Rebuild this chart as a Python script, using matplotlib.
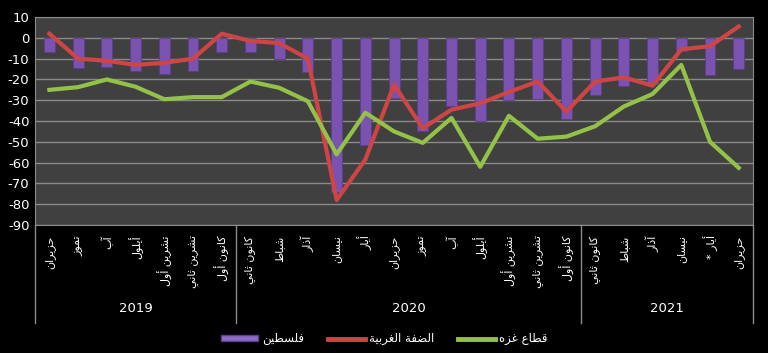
import numpy as np
import matplotlib
matplotlib.use("Agg")
import matplotlib.pyplot as plt
from matplotlib.patches import Patch
from matplotlib.lines import Line2D

# ── Data ─────────────────────────────────────────────────────────────────────
months = ["حزيران", "تموز", "آب", "أيلول", "تشرين أول", "تشرين ثاني", "كانون أول",
          "كانون ثاني", "شباط", "آذار", "نيسان", "أيار", "حزيران", "تموز", "آب",
          "أيلول", "تشرين أول", "تشرين ثاني", "كانون أول",
          "كانون ثاني", "شباط", "آذار", "نيسان", "أيار *", "حزيران"]
years = ["2019", "2020", "2021"]
year_sizes = [7, 12, 6]

palestine = [-7, -14.5, -14, -16, -17.5, -16, -7, -7, -10, -16.5, -74, -51.5, -29,
             -45, -33, -40, -30, -29.5, -39, -27.5, -23, -22, -6.5, -18, -15]
west_bank = [2, -10, -11, -13, -12, -10, 2, -1.5, -2.5, -10, -78, -58.5, -22.5,
             -43.5, -34.5, -31.5, -26, -21, -35.5, -21, -19, -23, -5.5, -4, 5.5]
gaza = [-25, -23.7, -20, -23.5, -29.5, -28.5, -28.5, -21, -24, -30.5, -56, -36, -45,
        -50.5, -38.5, -62, -37.5, -48.5, -47.5, -42.5, -33, -27, -13, -50, -62.5]

legend_labels = ["فلسطين", "الضفة الغربية", "قطاع غزه"]

# ── Minimal Arabic shaping (matplotlib has no shaping / bidi) ─────────────────
FORMS = {
    'ا': ('\uFE8D', '\uFE8E'), 'آ': ('\uFE81', '\uFE82'), 'أ': ('\uFE83', '\uFE84'),
    'د': ('\uFEA9', '\uFEAA'), 'ر': ('\uFEAD', '\uFEAE'), 'ز': ('\uFEAF', '\uFEB0'),
    'و': ('\uFEED', '\uFEEE'), 'ة': ('\uFE93', '\uFE94'),
    'ب': ('\uFE8F', '\uFE90', '\uFE91', '\uFE92'), 'ت': ('\uFE95', '\uFE96', '\uFE97', '\uFE98'),
    'ث': ('\uFE99', '\uFE9A', '\uFE9B', '\uFE9C'), 'ح': ('\uFEA1', '\uFEA2', '\uFEA3', '\uFEA4'),
    'س': ('\uFEB1', '\uFEB2', '\uFEB3', '\uFEB4'), 'ش': ('\uFEB5', '\uFEB6', '\uFEB7', '\uFEB8'),
    'ض': ('\uFEBD', '\uFEBE', '\uFEBF', '\uFEC0'), 'ط': ('\uFEC1', '\uFEC2', '\uFEC3', '\uFEC4'),
    'ع': ('\uFEC9', '\uFECA', '\uFECB', '\uFECC'), 'غ': ('\uFECD', '\uFECE', '\uFECF', '\uFED0'),
    'ف': ('\uFED1', '\uFED2', '\uFED3', '\uFED4'), 'ق': ('\uFED5', '\uFED6', '\uFED7', '\uFED8'),
    'ك': ('\uFED9', '\uFEDA', '\uFEDB', '\uFEDC'), 'ل': ('\uFEDD', '\uFEDE', '\uFEDF', '\uFEE0'),
    'م': ('\uFEE1', '\uFEE2', '\uFEE3', '\uFEE4'), 'ن': ('\uFEE5', '\uFEE6', '\uFEE7', '\uFEE8'),
    'ه': ('\uFEE9', '\uFEEA', '\uFEEB', '\uFEEC'), 'ي': ('\uFEF1', '\uFEF2', '\uFEF3', '\uFEF4'),
}


def ar(text):
    out = []
    for i, ch in enumerate(text):
        forms = FORMS.get(ch)
        if forms is None:
            out.append(ch)
            continue
        prev = text[i - 1] if i > 0 else ''
        nxt = text[i + 1] if i + 1 < len(text) else ''
        join_prev = prev in FORMS and len(FORMS[prev]) == 4
        join_next = len(forms) == 4 and nxt in FORMS
        if join_prev and join_next:
            out.append(forms[3])
        elif join_prev:
            out.append(forms[1])
        elif join_next:
            out.append(forms[2])
        else:
            out.append(forms[0])
    return ''.join(out)[::-1]


# ── Plot ─────────────────────────────────────────────────────────────────────
plt.rcParams['font.family'] = ['DejaVu Sans']
plt.rcParams['axes.unicode_minus'] = False

fig = plt.figure(figsize=(7.68, 3.53), dpi=100, facecolor="black")
ax = fig.add_axes([0.0456, 0.3626, 0.935, 0.589])
ax.set_facecolor("#404040")

x = np.arange(len(months))
ax.bar(x, palestine, width=0.38, color="#7a52b0", edgecolor="#5e3d8c",
       linewidth=0.6, zorder=2)
ax.plot(x, west_bank, color="#cf4545", linewidth=3, zorder=3)
ax.plot(x, gaza, color="#94c248", linewidth=3, zorder=3)

ax.set_xlim(-0.5, len(months) - 0.5)
ax.set_ylim(-90, 10)
ax.set_yticks(np.arange(-90, 11, 10))
ax.yaxis.grid(True, color="#8a8a8a", linewidth=1, zorder=0)
ax.set_axisbelow(True)
ax.tick_params(axis="y", colors="white", labelsize=9.5, length=0, pad=4)
ax.set_xticks([])
for s in ax.spines.values():
    s.set_color("#8a8a8a")

# month labels
for xi, m in zip(x, months):
    ax.text(xi, -0.05, ar(m), transform=ax.get_xaxis_transform(), rotation=90,
            ha="center", va="top", color="white", fontsize=8)

# year labels and separators
start = 0
bounds = [-0.5]
for yr, n in zip(years, year_sizes):
    ax.text(start + (n - 1) / 2, -0.40, yr, transform=ax.get_xaxis_transform(),
            ha="center", va="center", color="white", fontsize=9.5)
    start += n
    bounds.append(start - 0.5)
for b in bounds:
    ax.plot([b, b], [0, -0.47], transform=ax.get_xaxis_transform(),
            color="#8a8a8a", linewidth=1, clip_on=False)

handles = [Patch(facecolor="#8e6cc8", edgecolor="#5e3d8c"),
           Line2D([0], [0], color="#cf4545", linewidth=3.5),
           Line2D([0], [0], color="#94c248", linewidth=3.5)]
fig.legend(handles, [ar(t) for t in legend_labels], loc="center",
           bbox_to_anchor=(0.5, 0.04), ncol=3, frameon=False, fontsize=8.5,
           labelcolor="white", handlelength=3.2, handleheight=0.5,
           columnspacing=2.0, handletextpad=0.3)

fig.savefig("out.png", dpi=100, facecolor="black")
